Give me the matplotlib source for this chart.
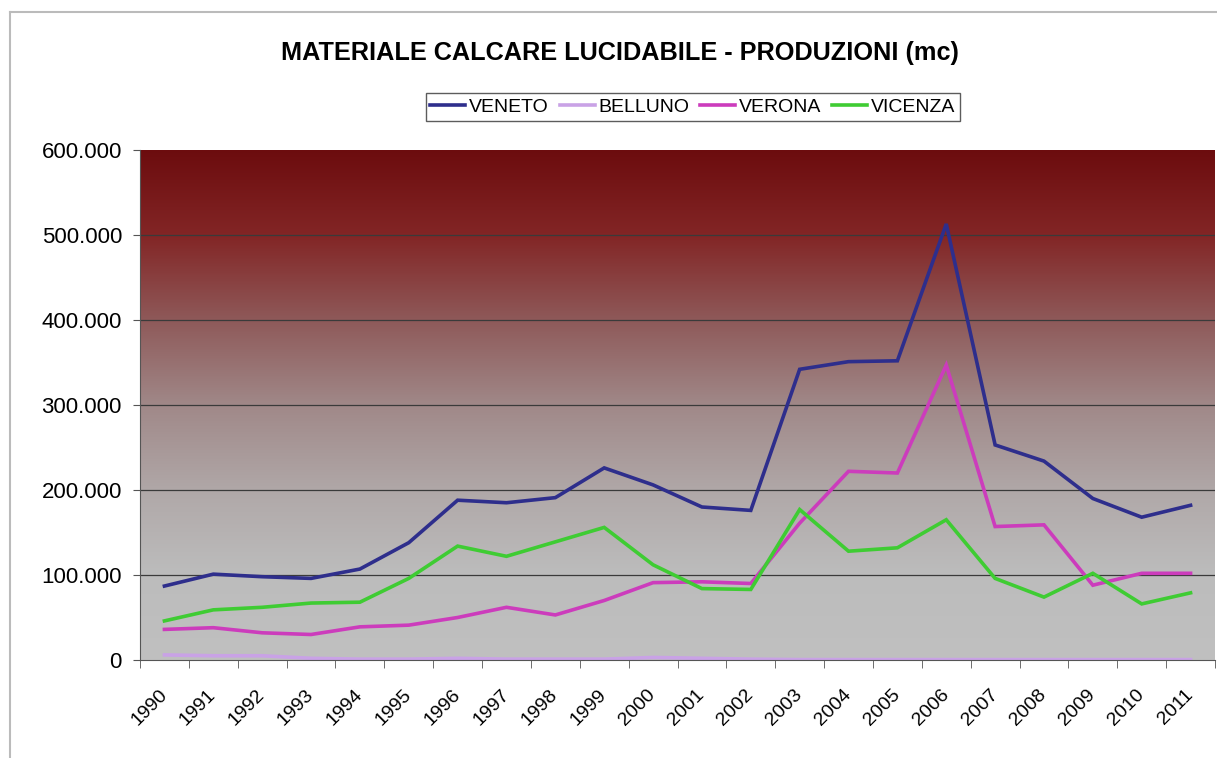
"""
Materiale calcare lucidabile - produzioni (mc), 1990-2011.
Excel-style line chart with a dark-red to gray gradient plot area.
"""

import numpy as np
import matplotlib.pyplot as plt
import matplotlib.transforms as mtransforms
from matplotlib.colors import LinearSegmentedColormap
from matplotlib.lines import Line2D
from matplotlib.ticker import FuncFormatter

# -------------------------------------------------
# Data (thousands of mc)
# -------------------------------------------------

years = [str(y) for y in range(1990, 2012)]

veneto = [87, 101, 98, 96, 107, 138, 188, 185, 191, 226, 206,
          180, 176, 342, 351, 352, 513, 253, 234, 190, 168, 182]

belluno = [6, 5, 5, 2, 1, 1, 2, 1, 1, 1, 3,
           2, 1, 0.5, 0.5, 0.5, 0.5, 0.5, 0.5, 0.5, 0.5, 0.5]

verona = [36, 38, 32, 30, 39, 41, 50, 62, 53, 70, 91,
          92, 90, 161, 222, 220, 347, 157, 159, 88, 102, 102]

vicenza = [46, 59, 62, 67, 68, 96, 134, 122, 139, 156, 112,
           84, 83, 177, 128, 132, 165, 96, 74, 102, 66, 79]

series = [
    ("VENETO", veneto, "#2e2e8c"),
    ("BELLUNO", belluno, "#c9a2e6"),
    ("VERONA", verona, "#cc3cbc"),
    ("VICENZA", vicenza, "#3fcc33"),
]

# -------------------------------------------------
# Figure
# -------------------------------------------------

plt.rcParams["font.family"] = ["Liberation Sans", "DejaVu Sans"]

fig = plt.figure(figsize=(12.17, 7.58), dpi=100)

ax = fig.add_axes([140 / 1217, 1 - 660 / 758,
                   1075 / 1217, 510 / 758])

# gradient background
gradient = LinearSegmentedColormap.from_list(
    "excel_red",
    [
        (0.00, "#c0c0c0"),
        (0.17, "#bcbcbc"),
        (0.33, "#b0a8a8"),
        (0.50, "#a08888"),
        (0.67, "#8e5858"),
        (0.83, "#832626"),
        (1.00, "#6c0c0e"),
    ],
)
ax.imshow(
    np.linspace(0, 1, 256).reshape(-1, 1),
    cmap=gradient,
    origin="lower",
    aspect="auto",
    extent=[0, 1, 0, 1],
    transform=ax.transAxes,
    zorder=0,
)

# grid lines
for v in range(100, 600, 100):
    ax.axhline(v * 1000, color="#3a3a3a", linewidth=0.9, zorder=1)

x = np.arange(len(years)) + 0.5

handles = []
for name, values, color in series:
    line, = ax.plot(
        x,
        np.array(values) * 1000,
        color=color,
        linewidth=2.6,
        solid_joinstyle="miter",
        label=name,
        zorder=3,
    )
    handles.append(line)

ax.set_xlim(0, len(years))
ax.set_ylim(0, 600000)

ax.set_yticks(np.arange(0, 600001, 100000))
ax.yaxis.set_major_formatter(
    FuncFormatter(lambda v, _: f"{v:,.0f}".replace(",", "."))
)

ax.set_xticks(np.arange(0, len(years) + 1), minor=True)
ax.set_xticks(x)
ax.set_xticklabels(years, rotation=45, ha="right", va="center",
                   rotation_mode="anchor")

# shift the rotated labels so their ends sit just left of the category
shift = mtransforms.ScaledTranslation(-12 / 100, 0, fig.dpi_scale_trans)
for label in ax.get_xticklabels():
    label.set_transform(label.get_transform() + shift)

ax.tick_params(axis="x", which="major", length=0, pad=23,
               labelsize=14)
ax.tick_params(axis="x", which="minor", length=6, color="#555555")
ax.tick_params(axis="y", length=5, color="#555555", labelsize=16,
               pad=8)

for side in ["top", "right"]:
    ax.spines[side].set_visible(False)
ax.spines["left"].set_color("#555555")
ax.spines["bottom"].set_color("#555555")
ax.spines["bottom"].set_zorder(4)

# title and legend
fig.text(620 / 1217, 1 - 53 / 758,
         "MATERIALE CALCARE LUCIDABILE - PRODUZIONI (mc)",
         ha="center", va="center", fontsize=18.2, fontweight="bold")

fig.legend(
    handles=handles,
    loc="center",
    bbox_to_anchor=(693 / 1217, 1 - 107 / 758),
    ncol=4,
    frameon=True,
    fancybox=False,
    edgecolor="#333333",
    fontsize=14,
    handlelength=1.8,
    handletextpad=0.2,
    columnspacing=0.55,
    borderpad=0.25,
)

# chart-area frame (Excel style)
fig.add_artist(Line2D([10 / 1217, 1.0], [1 - 12 / 758, 1 - 12 / 758],
                      transform=fig.transFigure,
                      color="#bbbbbb", linewidth=1.5))
fig.add_artist(Line2D([10 / 1217, 10 / 1217], [0.0, 1 - 12 / 758],
                      transform=fig.transFigure,
                      color="#bbbbbb", linewidth=1.5))

fig.savefig("out.png", dpi=100)
